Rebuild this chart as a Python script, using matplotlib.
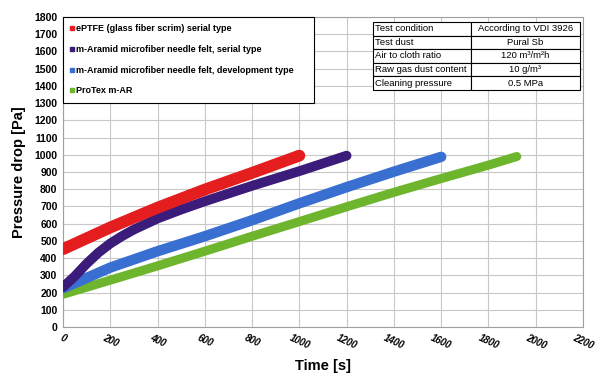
import matplotlib.pyplot as plt
from matplotlib.lines import Line2D

plt.rcParams['font.family'] = ['Liberation Sans', 'DejaVu Sans']

# Data
t_red = [0, 200, 400, 600, 800, 1000]
p_red = [452, 578, 693, 798, 895, 995]

t_purple = [0, 50, 100, 150, 200, 250, 300, 400, 500, 600, 800, 1000, 1200]
p_purple = [232, 295, 368, 432, 485, 528, 566, 630, 682, 730, 820, 905, 995]

t_blue = [0, 200, 400, 600, 800, 1000, 1200, 1400, 1600]
p_blue = [225, 345, 440, 527, 620, 718, 812, 902, 988]

t_green = [0, 200, 400, 600, 800, 1000, 1200, 1400, 1600, 1800, 1920]
p_green = [190, 272, 355, 440, 527, 612, 698, 782, 862, 940, 990]

labels = ["ePTFE (glass fiber scrim) serial type",
          "m-Aramid microfiber needle felt, serial type",
          "m-Aramid microfiber needle felt, development type",
          "ProTex m-AR"]
colors = ["#e41e1e", "#3b1c7a", "#3a6fd2", "#6cb52c"]

table_rows = [["Test condition", "According to VDI 3926"],
              ["Test dust", "Pural Sb"],
              ["Air to cloth ratio", "120 m³/m²h"],
              ["Raw gas dust content", "10 g/m³"],
              ["Cleaning pressure", "0.5 MPa"]]

x_ticks = list(range(0, 2201, 200))
y_ticks = list(range(0, 1801, 100))

fig = plt.figure(figsize=(6.1, 3.81), dpi=100)
ax = fig.add_axes([0.1033, 0.1417, 0.8524, 0.8137])

series = [(t_red, p_red), (t_purple, p_purple), (t_blue, p_blue), (t_green, p_green)]
widths = [8.5, 7, 7.5, 6.5]
for i in range(3, -1, -1):
    t, p = series[i]
    ax.plot(t, p, color=colors[i], lw=widths[i], solid_capstyle='round',
            solid_joinstyle='round', zorder=3 + (3 - i))

ax.set_xlim(0, 2200)
ax.set_ylim(0, 1800)
ax.set_xticks(x_ticks)
ax.set_yticks(y_ticks)
ax.grid(True, color="#c8c8c8", lw=0.8)
ax.set_axisbelow(True)
for s in ax.spines.values():
    s.set_color("#a0a0a0")
    s.set_linewidth(0.8)
ax.tick_params(length=0, pad=4)

for lab in ax.get_yticklabels():
    lab.set_fontsize(7.5)
    lab.set_fontweight('bold')
for lab in ax.get_xticklabels():
    lab.set_fontsize(7)
    lab.set_fontweight('bold')
    lab.set_fontstyle('italic')
    lab.set_rotation(-25)
    lab.set_ha('center')
    lab.set_va('top')

ax.set_xlabel("Time [s]", fontsize=10.5, fontweight='bold', labelpad=6)
ax.set_ylabel("Pressure drop [Pa]", fontsize=10.5, fontweight='bold', labelpad=6)

handles = [Line2D([], [], ls='none', marker='s', markersize=3.5, color=c) for c in colors]
leg = ax.legend(handles, labels, loc='upper left', bbox_to_anchor=(0, 0.997, 0.483, 0.003),
                mode='expand', borderaxespad=0, fancybox=False, edgecolor='black',
                prop={'size': 6.5, 'weight': 'bold'}, handlelength=0.4, handletextpad=0.2,
                labelspacing=1.3, borderpad=0.8, framealpha=1)
leg.get_frame().set_linewidth(0.8)
leg.set_zorder(10)

tab = ax.table(cellText=table_rows, bbox=[0.596, 0.765, 0.398, 0.219],
               colWidths=[0.473, 0.527], zorder=10)
tab.auto_set_font_size(False)
for (r, c), cell in tab.get_celld().items():
    cell.set_edgecolor('black')
    cell.set_linewidth(0.8)
    cell.set_facecolor('white')
    cell.get_text().set_fontsize(6.8)
    if c == 0:
        cell.get_text().set_ha('left')
        cell.PAD = 0.02
    else:
        cell.get_text().set_ha('center')

fig.savefig("out.png", dpi=100)
